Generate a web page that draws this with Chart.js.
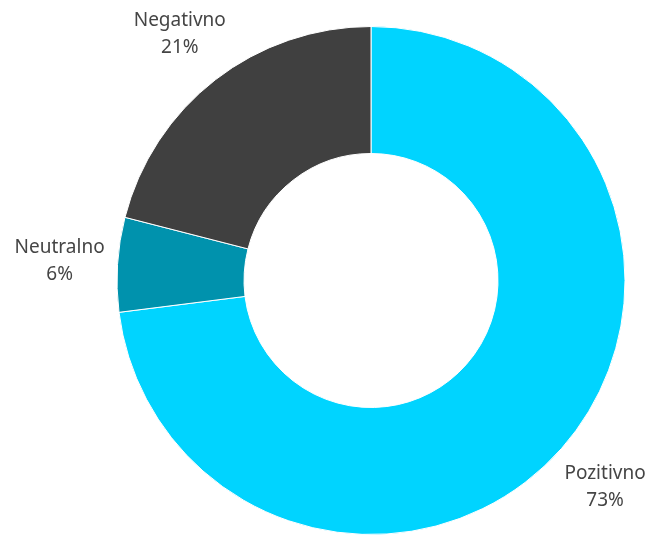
<!DOCTYPE html>
<html>
<head>
<meta charset="utf-8">
<script src="https://cdn.jsdelivr.net/npm/chart.js@4"></script>
<style>
  html, body { margin: 0; padding: 0; background: #fff; }
  #wrap { width: 656px; height: 535px; }
</style>
</head>
<body>
<div id="wrap"><canvas id="myChart"></canvas></div>
<script>
const labels = ["Pozitivno", "Neutralno", "Negativno"];
const values = [73, 6, 21];
const colors = ["#00d4ff", "#0092ad", "#404040"];

// draws "name / value%" outside each slice, on the slice's middle angle
const outsideLabels = {
  id: "outsideLabels",
  afterDatasetsDraw(chart) {
    const ctx = chart.ctx;
    const meta = chart.getDatasetMeta(0);
    ctx.save();
    ctx.fillStyle = "#454545";
    ctx.font = "19px 'Noto Sans'";
    ctx.textAlign = "center";
    ctx.textBaseline = "middle";
    meta.data.forEach(function (arc, i) {
      const p = arc.getProps(["x", "y", "startAngle", "endAngle", "outerRadius"], true);
      const mid = (p.startAngle + p.endAngle) / 2;
      const r = p.outerRadius + 58;
      const x = p.x + Math.cos(mid) * r;
      const y = p.y + Math.sin(mid) * r;
      ctx.fillText(labels[i], x, y - 13.5);
      ctx.fillText(values[i] + "%", x, y + 13.5);
    });
    ctx.restore();
  },
};

const data = {
  labels: labels,
  datasets: [
    {
      data: values,
      backgroundColor: colors,
      borderColor: "#ffffff",
      borderWidth: 1,
    },
  ],
};

const config = {
  type: "doughnut",
  data: data,
  options: {
    responsive: true,
    maintainAspectRatio: false,
    animation: false,
    cutout: "50%",
    layout: { padding: { top: 26, left: 86, right: 0, bottom: 0 } },
    plugins: {
      legend: { display: false },
      tooltip: { enabled: false },
    },
  },
  plugins: [outsideLabels],
};

const myChart = new Chart(document.getElementById("myChart"), config);
</script>
</body>
</html>
